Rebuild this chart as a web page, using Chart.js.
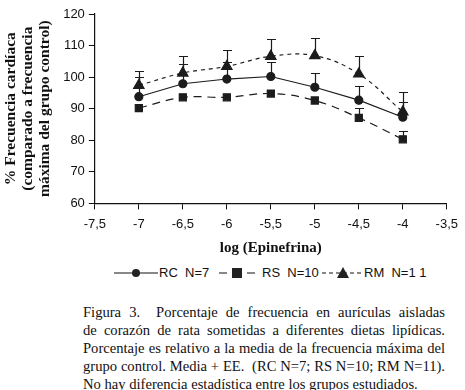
<!DOCTYPE html>
<html lang="es">
<head>
<meta charset="UTF-8" />
<title>Figura 3</title>
<script src="https://cdn.jsdelivr.net/npm/chart.js"></script>
<style>
  body { margin: 0; background: #fff; width: 465px; height: 390px; overflow: hidden; }
  .chart-box { position: relative; width: 465px; height: 257px; }
  .legend { position: absolute; top: 264px; left: 0; width: 465px; height: 18px;
    font-family: "Liberation Sans", Arial, sans-serif; font-size: 13px; color: #111; }
  .legend span { position: absolute; top: 0; line-height: 18px; }
  .legend svg { position: absolute; top: 0; }
  .caption { position: absolute; top: 303px; left: 83px; width: 362px;
    font-family: "Liberation Serif", "Times New Roman", serif; font-size: 14.6px;
    line-height: 18px; color: #111; }
  .caption div { text-align: justify; text-align-last: justify; white-space: nowrap; }
  .caption div.last { text-align-last: left; }
</style>
</head>
<body>
<div class="chart-box"><canvas id="chart"></canvas></div>

<div class="legend">
  <svg style="left:114px" width="44" height="18">
    <line x1="0" y1="9" x2="44" y2="9" stroke="#111" stroke-width="1"/>
    <circle cx="22" cy="9" r="4" fill="#222"/>
  </svg>
  <span style="left:159px">RC&nbsp; N=7</span>
  <svg style="left:219px" width="36" height="18">
    <line x1="0" y1="9" x2="36" y2="9" stroke="#111" stroke-width="1" stroke-dasharray="8,6"/>
    <rect x="13" y="4" width="10" height="10" fill="#222"/>
  </svg>
  <span style="left:262px">RS&nbsp; N=10</span>
  <svg style="left:322px" width="42" height="18">
    <line x1="0" y1="9" x2="42" y2="9" stroke="#111" stroke-width="1" stroke-dasharray="4,3"/>
    <polygon points="21,3 27,14 15,14" fill="#222"/>
  </svg>
  <span style="left:364px">RM&nbsp; N=1 1</span>
</div>

<div class="caption">
  <div>Figura 3.&nbsp; Porcentaje de frecuencia en aurículas aisladas</div>
  <div>de corazón de rata sometidas a diferentes dietas lipídicas.</div>
  <div>Porcentaje es relativo a la media de la frecuencia máxima del</div>
  <div>grupo control. Media + EE.&nbsp; (RC N=7; RS N=10; RM N=11).</div>
  <div class="last">No hay diferencia estadística entre los grupos estudiados.</div>
</div>

<script>
  // log (Epinefrina)
  const doses = [-7, -6.5, -6, -5.5, -5, -4.5, -4];

  const rcMean = [93.8, 97.9, 99.4, 100.2, 96.8, 92.7, 87.3];
  const rcUpper = [100.0, 104.3, 104.8, 104.7, 101.3, 97.3, 92.0];

  const rsMean = [90.2, 93.6, 93.6, 94.8, 92.6, 87.1, 80.3];
  const rsUpper = [90.2, 93.6, 93.6, 94.8, 92.6, 90.2, 82.8];

  const rmMean = [97.4, 101.3, 103.4, 106.6, 106.8, 101.0, 89.0];
  const rmUpper = [102.1, 106.8, 108.6, 112.0, 112.5, 106.6, 95.4];

  const xTicks = [-7.5, -7, -6.5, -6, -5.5, -5, -4.5, -4, -3.5];

  const ink = '#1c1c1c';
  const serif = "'Liberation Serif', 'Times New Roman', serif";
  const sans = "'Liberation Sans', Arial, sans-serif";

  function pts(ys) {
    return doses.map((x, i) => ({ x: x, y: ys[i] }));
  }

  // upward error bars (Media + EE)
  const errorBars = {
    id: 'errorBars',
    beforeDatasetsDraw(chart) {
      const ctx = chart.ctx;
      const xs = chart.scales.x, ys = chart.scales.y;
      const uppers = [rcUpper, rsUpper, rmUpper];
      const means = [rcMean, rsMean, rmMean];
      ctx.save();
      ctx.strokeStyle = ink;
      ctx.lineWidth = 1.2;
      uppers.forEach((up, d) => {
        up.forEach((u, i) => {
          if (u - means[d][i] < 0.5) return;
          const px = Math.round(xs.getPixelForValue(doses[i])) + 0.5;
          const y0 = ys.getPixelForValue(means[d][i]);
          const y1 = Math.round(ys.getPixelForValue(u)) + 0.5;
          ctx.beginPath();
          ctx.moveTo(px, y0);
          ctx.lineTo(px, y1);
          ctx.moveTo(px - 4.5, y1);
          ctx.lineTo(px + 4.5, y1);
          ctx.stroke();
        });
      });
      ctx.restore();
    }
  };

  new Chart(document.getElementById('chart'), {
    type: 'line',
    data: {
      datasets: [
        {
          label: 'RC N=7',
          data: pts(rcMean),
          borderColor: ink,
          backgroundColor: ink,
          borderWidth: 1.2,
          pointStyle: 'circle',
          pointRadius: 4,
          tension: 0
        },
        {
          label: 'RS N=10',
          data: pts(rsMean),
          borderColor: ink,
          backgroundColor: ink,
          borderWidth: 1.2,
          borderDash: [8, 6],
          pointStyle: 'rect',
          pointRadius: 5,
          tension: 0.4
        },
        {
          label: 'RM N=1 1',
          data: pts(rmMean),
          borderColor: ink,
          backgroundColor: ink,
          borderWidth: 1.2,
          borderDash: [4, 4],
          pointStyle: 'triangle',
          pointRadius: 6,
          tension: 0.4
        }
      ]
    },
    options: {
      responsive: true,
      maintainAspectRatio: false,
      animation: false,
      layout: { padding: { top: 14, right: 12, left: 2, bottom: 0 } },
      plugins: {
        legend: { display: false },
        tooltip: { enabled: false }
      },
      scales: {
        x: {
          type: 'linear',
          min: -7.5,
          max: -3.5,
          afterBuildTicks: (axis) => { axis.ticks = xTicks.map(v => ({ value: v })); },
          ticks: {
            color: '#111',
            font: { family: sans, size: 13 },
            padding: 7,
            maxRotation: 0,
            callback: (v) => String(v).replace('.', ',')
          },
          grid: { drawOnChartArea: false, drawTicks: true, tickLength: 6, color: '#111' },
          border: { color: '#111', width: 1.2 },
          title: {
            display: true,
            text: 'log (Epinefrina)',
            color: '#111',
            font: { family: serif, size: 15, weight: 'bold' },
            padding: { top: 0, bottom: 0 }
          }
        },
        y: {
          min: 60,
          max: 120,
          ticks: {
            stepSize: 10,
            color: '#111',
            font: { family: sans, size: 13 },
            padding: 4
          },
          grid: { drawOnChartArea: false, drawTicks: true, tickLength: 6, color: '#111' },
          border: { color: '#111', width: 1.2 },
          title: {
            display: true,
            text: ['% Frecuencia cardíaca', '(comparado a frecuencia', 'máxima del grupo control)'],
            color: '#111',
            font: { family: serif, size: 15.5, weight: 'bold', lineHeight: 1.1 },
            padding: { top: 0, bottom: 6 }
          }
        }
      }
    },
    plugins: [errorBars]
  });
</script>
</body>
</html>
